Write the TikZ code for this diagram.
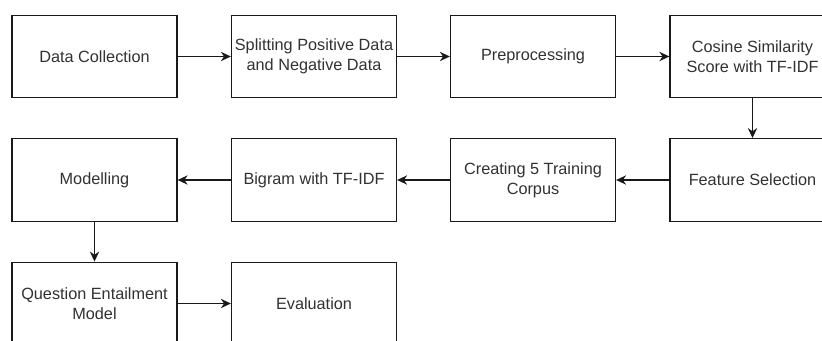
\documentclass[tikz,border=0pt]{standalone}
\usepackage{xcolor}
\usepackage{fontspec}
\setmainfont{Liberation Sans}
\usepackage{tikz}
\usetikzlibrary{arrows.meta}
\definecolor{mydark}{RGB}{25,25,25}
\definecolor{mytext}{RGB}{50,50,50}
\tikzset{
  block/.style={rectangle, draw=mydark, fill=white, text=mytext,
    minimum width=123.75pt, minimum height=62pt, inner sep=0pt,
    align=center, font=\fontsize{12.2}{15}\selectfont, line width=0.95pt},
  arrow/.style={-{Stealth[length=7.5pt, width=7pt]}, line width=0.95pt, color=mydark}
}

\begin{document}
\begin{tikzpicture}[x=0.75pt, y=-0.75pt]
  % Canvas (px units, y down)
  \useasboundingbox (0,0) rectangle (822,340);
  \clip (0,0) rectangle (822,340);

  % Row 1
  \node[block] (collect)  at (94.5,56.5)  {Data Collection};
  \node[block] (split)    at (314,56.5)   {Splitting Positive Data\\and Negative Data};
  \node[block] (prep)     at (533,56.5)   {Preprocessing};
  \node[block] (cosine)   at (752.5,56.5) {Cosine Similarity\\Score with TF-IDF};

  % Row 2
  \node[block] (model)    at (94.5,180)   {Modelling};
  \node[block] (bigram)   at (314,180)    {Bigram with TF-IDF};
  \node[block] (corpus)   at (533,180)    {Creating 5 Training\\Corpus};
  \node[block] (feature)  at (752.5,180)  {Feature Selection};

  % Row 3
  \node[block] (entail)   at (94.5,303.5) {Question Entailment\\Model};
  \node[block] (eval)     at (314,303.5)  {Evaluation};

  % Flow
  \draw[arrow] (collect) -- (split);
  \draw[arrow] (split) -- (prep);
  \draw[arrow] (prep) -- (cosine);
  \draw[arrow] (cosine) -- (feature);
  \draw[arrow] (feature) -- (corpus);
  \draw[arrow] (corpus) -- (bigram);
  \draw[arrow] (bigram) -- (model);
  \draw[arrow] (model) -- (entail);
  \draw[arrow] (entail) -- (eval);

\end{tikzpicture}
\end{document}
